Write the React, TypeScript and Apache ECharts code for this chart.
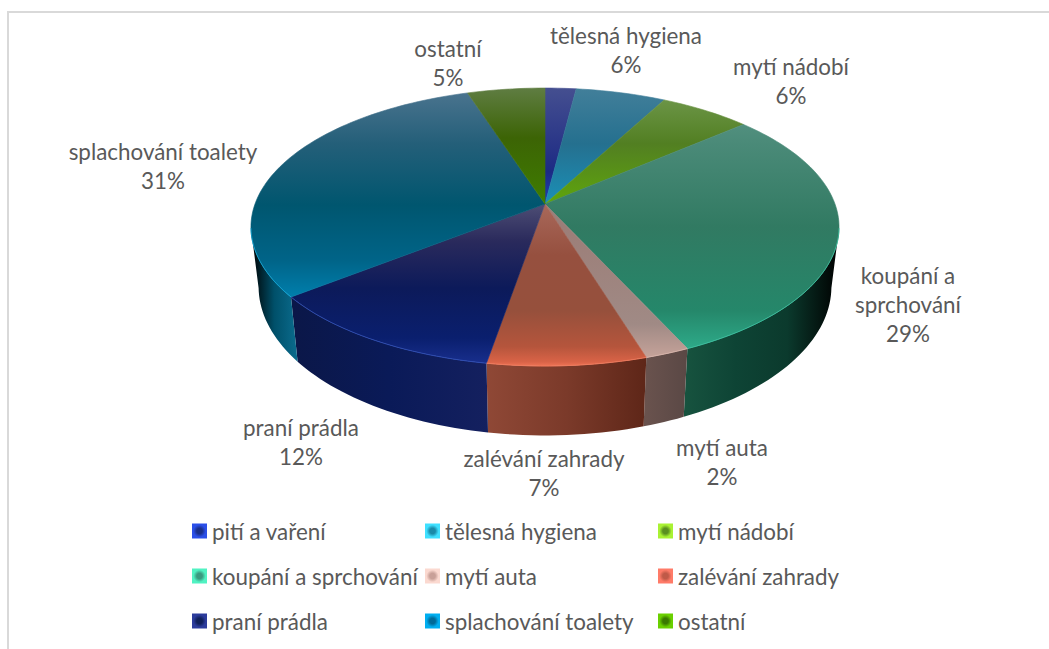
import React, { useEffect, useRef } from "react";
import * as echarts from "echarts";

const categories = ["pití a vaření", "tělesná hygiena", "mytí nádobí", "koupání a sprchování", "mytí auta", "zalévání zahrady", "praní prádla", "splachování toalety", "ostatní"];
const values = [2, 5.8, 5.9, 29.45, 2.1, 7.45, 11.7, 30.6, 5];

// top-face vertical tones: y fraction -> colour
const topStops = [
  [[0, "#454f90"], [0.3, "#1c2a84"], [0.42, "#1f3fb8"], [1, "#1f3fb8"]],
  [[0, "#427f9a"], [0.2, "#25708f"], [0.42, "#1a90b8"], [1, "#1a90b8"]],
  [[0, "#729a50"], [0.2, "#527f22"], [0.42, "#5fa60c"], [1, "#5fa60c"]],
  [[0, "#5f9a8a"], [0.2, "#4a8a78"], [0.5, "#317a62"], [0.8, "#25876a"], [0.96, "#2fb08e"], [1, "#35ba98"]],
  [[0, "#8a8885"], [0.5, "#9c7e78"], [0.85, "#a08a85"], [1, "#cfa99f"]],
  [[0, "#a06a5e"], [0.42, "#a8685a"], [0.6, "#96503f"], [0.8, "#96503c"], [0.93, "#b5553c"], [0.985, "#d96347"], [1, "#ee7355"]],
  [[0, "#5a5a80"], [0.42, "#4d4d74"], [0.55, "#2a2a5c"], [0.72, "#0c1a5a"], [0.9, "#0a1f6e"], [1, "#1a3090"]],
  [[0, "#4d7590"], [0.2, "#245f79"], [0.42, "#00566f"], [0.62, "#006488"], [0.78, "#0084b4"], [1, "#0090c0"]],
  [[0, "#5f7d42"], [0.18, "#3c6405"], [0.42, "#3f7d00"], [1, "#3f7d00"]],
];
// outer wall: left -> right tones
const wallStops = [
  ["#1f3fb8", "#1f3fb8"],
  ["#1a90b8", "#1a90b8"],
  ["#5fa60c", "#5fa60c"],
  ["#17533f", "#0e4435", "#0b3a2d", "#000000"],
  ["#6a534e", "#5a4845"],
  ["#8f4836", "#7b3a2a", "#5e2618"],
  ["#0b1748", "#0a1a58", "#14205f"],
  ["#000000", "#00506a", "#0b6c8e"],
  ["#3f7d00", "#3f7d00"],
];
const rimColors = ["#2a4ad0", "#20a0c8", "#70b820", "#3ac0a0", "#d9b5ab", "#f07a5c", "#3050b8", "#10a8d8", "#50a000"];
const legendEdge = ["#2b4fe8", "#3fe0ff", "#a9f233", "#50f2c2", "#fbd9d0", "#ff7b68", "#2c3c9c", "#00aef0", "#6ad000"];
const legendCore = ["#1a2f8a", "#1a8aa8", "#5a9020", "#3a9a80", "#c8a098", "#c05a48", "#10205a", "#006a98", "#3a7a00"];

const labelText: (string | null)[] = [null, "tělesná hygiena", "mytí nádobí", "koupání a\nsprchování", "mytí auta", "zalévání zahrady", "praní prádla", "splachování toalety", "ostatní"];
const labelAnchor: ([number, number] | null)[] = [null, [626, 50], [791, 81], [908, 304], [722, 462], [544, 473], [301, 442], [163, 166], [448, 63]];

const FONT = "22.4px Lato";
const TEXT = "#595959";
const CX = 545, CY = 204, RX = 290, K = -0.1655, A = 101.4, DEPTH = 58, BOTTOM_X = 0.974;
const FRONT_FROM = 100, FRONT_TO = 260;

function project(deg: number, bottom: boolean): number[] {
  const t = (deg * Math.PI) / 180;
  const u = Math.sin(t), v = -Math.cos(t), w = 1 + K * v;
  const y = (CY + A * v) / w;
  if (!bottom) return [CX + (RX * u) / w, y];
  return [CX + (BOTTOM_X * RX * u) / w, y + DEPTH / w];
}
function arc(a: number, b: number, bottom: boolean): number[][] {
  const n = Math.max(2, Math.ceil(Math.abs(b - a) / 1.5));
  const out: number[][] = [];
  for (let i = 0; i <= n; i++) out.push(project(a + ((b - a) * i) / n, bottom));
  return out;
}
const total = values.reduce((s, x) => s + x, 0);
const starts = values.map((_, i) => values.slice(0, i).reduce((s, x) => s + x, 0));

function renderSlice(idx: number) {
  return (_p: any, api: any) => {
    const start = (api.value(0) / total) * 360;
    const end = start + (api.value(1) / total) * 360;
    const children: any[] = [];
    const a = Math.max(start, FRONT_FROM), b = Math.min(end, FRONT_TO);
    if (b > a) {
      const stops = wallStops[idx];
      children.push({
        type: "polygon", z2: 1, silent: true,
        shape: { points: [...arc(a, b, false), ...arc(b, a, true)] },
        style: {
          fill: new echarts.graphic.LinearGradient(0, 0, 1, 0, stops.map((color, i) => ({ offset: i / (stops.length - 1), color }))),
          stroke: null,
        },
      });
    }
    const fill = new echarts.graphic.LinearGradient(0, 88, 0, 366,
      (topStops[idx] as any[]).map(([offset, color]) => ({ offset, color })), true);
    children.push({
      type: "polygon", z2: 10, silent: true,
      shape: { points: [[CX, CY], ...arc(start, end, false)] },
      style: { fill, stroke: fill, lineWidth: 0.6 },
    });
    if (b > a) {
      children.push({
        type: "polyline", z2: 11, silent: true,
        shape: { points: arc(a, b, false) },
        style: { fill: null, stroke: rimColors[idx], lineWidth: 1, opacity: 0.8 },
      });
    }
    const at = labelAnchor[idx];
    if (at) {
      children.push({
        type: "text", z2: 20, silent: true,
        style: {
          x: at[0], y: at[1], text: `${labelText[idx]}\n${Math.round(api.value(1))}%`,
          font: FONT, fill: TEXT, align: "center", verticalAlign: "middle", lineHeight: 29,
        },
      });
    }
    return { type: "group", children };
  };
}

const legendItem = (i: number) => ({
  name: categories[i],
  itemStyle: {
    color: {
      type: "radial", x: 0.5, y: 0.5, r: 0.66,
      colorStops: [{ offset: 0, color: legendCore[i] }, { offset: 0.28, color: legendCore[i] }, { offset: 0.62, color: legendEdge[i] }, { offset: 1, color: legendEdge[i] }],
    },
  },
});
const legendColumn = (left: number, ids: number[]) => ({
  left, top: 520, orient: "vertical" as const, itemWidth: 15, itemHeight: 15, itemGap: 23, padding: 0,
  selectedMode: false, icon: "rect",
  textStyle: { fontFamily: "Lato", fontSize: 22.4, color: TEXT },
  data: ids.map(legendItem),
});

export default function App() {
  const ref = useRef<HTMLDivElement>(null);
  useEffect(() => {
    const chart = echarts.init(ref.current!, undefined, { renderer: "svg" });
    chart.setOption({
      animation: false,
      backgroundColor: "#ffffff",
      graphic: [
        { type: "polyline", shape: { points: [[8, 649], [8, 12], [1049, 12]] }, style: { fill: null, stroke: "#d9d9d9", lineWidth: 2 }, silent: true },
      ],
      legend: [legendColumn(192, [0, 3, 6]), legendColumn(425, [1, 4, 7]), legendColumn(658, [2, 5, 8])],
      series: categories.map((name, i) => ({
        type: "custom", name, coordinateSystem: "none", silent: true,
        data: [[starts[i], values[i]]],
        renderItem: renderSlice(i),
      })),
    });
    return () => chart.dispose();
  }, []);
  return <div ref={ref} style={{ position: "fixed", left: 0, top: 0, width: 1049, height: 649 }} />;
}
